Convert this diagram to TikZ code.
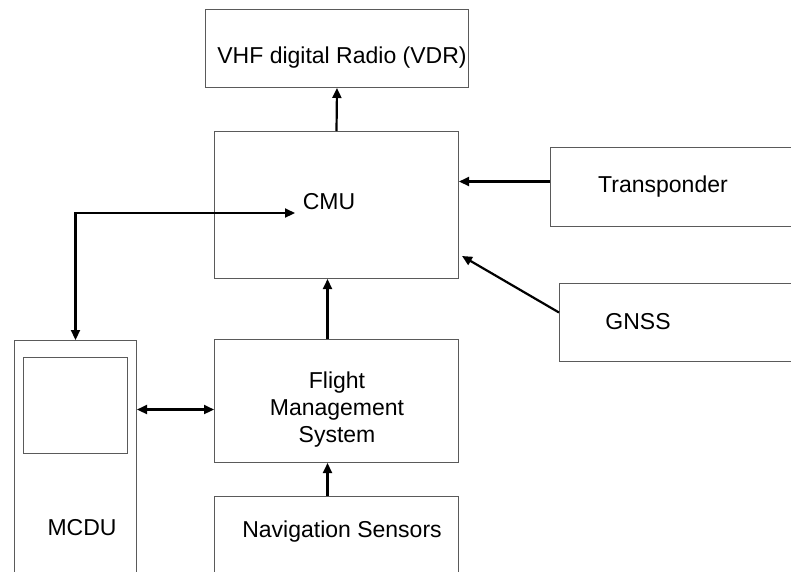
\documentclass[tikz,border=0pt]{standalone}
\usepackage{fontspec}
\setmainfont{Liberation Sans}
\usetikzlibrary{arrows.meta,calc}
\definecolor{boxgray}{RGB}{90,90,90}
\tikzset{
  box/.style={draw=boxgray, line width=1pt, inner sep=0pt, anchor=north west},
  lbl/.style={font=\fontsize{23}{27}\selectfont, inner sep=0pt, align=center},
  arr/.style={line width=2.2pt, -{Triangle[length=10pt,width=9pt]}},
  arrb/.style={line width=2.2pt, {Triangle[length=10pt,width=9pt]}-{Triangle[length=10pt,width=9pt]}},
}
\begin{document}
\begin{tikzpicture}[x=1pt,y=-1pt]
\clip (0,0) rectangle (791,571);
\fill[white] (0,0) rectangle (791,571);
% boxes
\node[box, minimum width=263pt, minimum height=78pt] (vdr) at (205,9) {};
\node[box, minimum width=244pt, minimum height=147pt] (cmu) at (214,131) {};
\node[box, minimum width=270pt, minimum height=79pt] (tr) at (550,147) {};
\node[box, minimum width=260pt, minimum height=78pt] (gnss) at (559,283) {};
\node[box, minimum width=244pt, minimum height=123pt] (fms) at (214,339) {};
\node[box, minimum width=244pt, minimum height=120pt] (nav) at (214,496) {};
\node[box, minimum width=122pt, minimum height=280pt] (mcdu) at (14,340) {};
\node[box, minimum width=104pt, minimum height=96pt] (screen) at (23,357) {};
% labels
\node[lbl] (tvdr) at (342,58) {VHF digital Radio (VDR)};
\node[lbl] (tcmu) at (329,202) {CMU};
\node[lbl] (ttr) at (663,187) {Transponder};
\node[lbl] (tgnss) at (638,322) {GNSS};
\node[lbl] (tfms) at (337,410) {Flight\\Management\\System};
\node[lbl] (tnav) at (342,532) {Navigation Sensors};
\node[lbl] (tmcdu) at (82,528) {MCDU};
% connectors
\draw[arr] (cmu.north) -- (vdr.south);
\draw[arr] ([xshift=-9pt]fms.north) -- ([xshift=-9pt]cmu.south);
\draw[arr] ([xshift=-9pt]nav.north) -- ([xshift=-9pt]fms.south);
\draw[arr] ([yshift=5.5pt]tr.west) -- ([yshift=5.5pt]tr.west -| cmu.east);
\draw[arr] ([yshift=10pt]gnss.west) -- ([xshift=3pt,yshift=23pt]cmu.south east);
\coordinate (cin) at (295,213);
\draw[arrb] (cin) -- (cin -| mcdu.north) -- (mcdu.north);
\draw[arrb] ([yshift=-8.5pt]fms.west -| mcdu.east) -- ([yshift=-8.5pt]fms.west);
\end{tikzpicture}
\end{document}
